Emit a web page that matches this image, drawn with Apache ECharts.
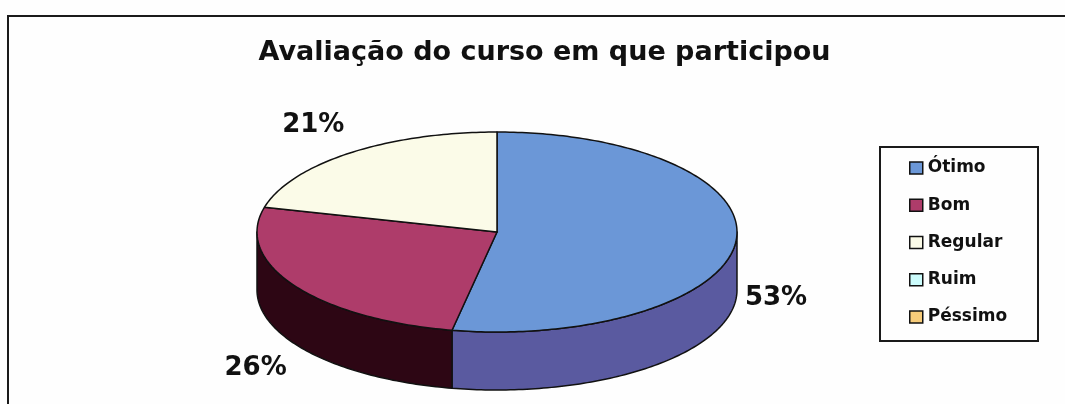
<!DOCTYPE html>
<html>
<head>
<meta charset="utf-8">
<script src="https://cdn.jsdelivr.net/npm/echarts@6/dist/echarts.min.js"></script>
<style>
  html, body { margin: 0; padding: 0; background: #fefefe; }
  #chart { width: 1065px; height: 404px; }
</style>
</head>
<body>
<div id="chart"></div>
<script>
// Survey answers: share of respondents per rating (percent)
const categories = ['Ótimo', 'Bom', 'Regular', 'Ruim', 'Péssimo'];
const shares = [53, 26, 21, 0, 0];
const chartTitle = 'Avaliação do curso em que participou';

// Face colours of each slice (top face / outer wall)
const topColors = ['#6b97d7', '#ae3c6a', '#fbfbe8', '#ccfcfc', '#f7cc7a'];
const sideColors = ['#5a5aa0', '#2d0614', '#d8d7c0', '#a8d8d8', '#c8a050'];

// Layout of the tilted disc (pixels)
const DISC = { cx: 497, cy: 232, rx: 240, ry: 100, depth: 58 };
// Percentage labels: horizontal gap from the rim, vertical placement
// (labels toward the sides drop a little to clear the wall)
const LABEL = { rx: 249, ry: 175, side: 49, dy: 1 };
const FONT = 'DejaVu Sans';

const total = shares.reduce((a, b) => a + b, 0);
const startShare = [];
shares.reduce((acc, v) => { startShare.push(acc); return acc + v; }, 0);

// Angles run clockwise from 12 o'clock
function onRim(theta, drop) {
  return [DISC.cx + DISC.rx * Math.sin(theta), DISC.cy - DISC.ry * Math.cos(theta) + (drop || 0)];
}
function rim(a0, a1, drop) {
  const n = Math.max(2, Math.ceil((a1 - a0) / (Math.PI / 180)));
  const pts = [];
  for (let k = 0; k <= n; k++) pts.push(onRim(a0 + (a1 - a0) * k / n, drop));
  return pts;
}

function sliceRenderer(i) {
  return function (params, api) {
    const v = api.value(0);
    if (!v) return null;
    const a0 = startShare[i] / total * 2 * Math.PI;
    const a1 = a0 + v / total * 2 * Math.PI;
    const children = [];
    // outer wall is only visible on the front half of the disc
    const w0 = Math.max(a0, Math.PI / 2);
    const w1 = Math.min(a1, 3 * Math.PI / 2);
    if (w1 > w0) {
      const upper = rim(w0, w1, 0);
      const lower = rim(w0, w1, DISC.depth).reverse();
      children.push({
        type: 'polygon', z2: 1,
        shape: { points: upper.concat(lower) },
        style: { fill: sideColors[i], stroke: '#111', lineWidth: 1.5, lineJoin: 'round' }
      });
    }
    children.push({
      type: 'polygon', z2: 2,
      shape: { points: [[DISC.cx, DISC.cy]].concat(rim(a0, a1, 0)) },
      style: { fill: api.visual('color'), stroke: '#111', lineWidth: 1.5, lineJoin: 'round' }
    });
    // label sits outside the slice, on the side of its middle angle
    const mid = (a0 + a1) / 2;
    const s = Math.sin(mid);
    children.push({
      type: 'text', z2: 3,
      x: DISC.cx + LABEL.rx * s,
      y: DISC.cy - LABEL.ry * Math.cos(mid) + LABEL.side * Math.abs(s) + LABEL.dy,
      style: {
        text: v + '%', fontFamily: FONT, fontWeight: 'bold', fontSize: 26,
        fill: '#111', align: s >= 0 ? 'left' : 'right', verticalAlign: 'middle'
      }
    });
    return { type: 'group', children: children };
  };
}

const chart = echarts.init(document.getElementById('chart'), null, { renderer: 'canvas' });

chart.setOption({
  animation: false,
  backgroundColor: '#fefefe',
  title: {
    text: chartTitle,
    left: 539.5,
    top: 34,
    textAlign: 'center',
    textStyle: { fontFamily: FONT, fontWeight: 'bold', fontSize: 27, color: '#111' }
  },
  legend: {
    orient: 'vertical',
    left: 909,
    top: 158,
    padding: 0,
    itemGap: 17.25,
    itemWidth: 13,
    itemHeight: 12,
    icon: 'rect',
    selectedMode: false,
    itemStyle: { borderColor: '#111', borderWidth: 1.5 },
    textStyle: { fontFamily: FONT, fontWeight: 'bold', fontSize: 17, lineHeight: 20, color: '#111' },
    data: categories
  },
  graphic: [
    { type: 'rect', silent: true, shape: { x: 8, y: 16, width: 1100, height: 500 },
      style: { fill: 'none', stroke: '#1a1a1a', lineWidth: 2 } },
    { type: 'rect', silent: true, shape: { x: 880, y: 147, width: 158, height: 194 },
      style: { fill: 'none', stroke: '#1a1a1a', lineWidth: 2 } }
  ],
  series: categories.map((name, i) => ({
    type: 'custom',
    name: name,
    coordinateSystem: 'none',
    itemStyle: { color: topColors[i] },
    data: [[shares[i]]],
    renderItem: sliceRenderer(i)
  }))
});
</script>
</body>
</html>
